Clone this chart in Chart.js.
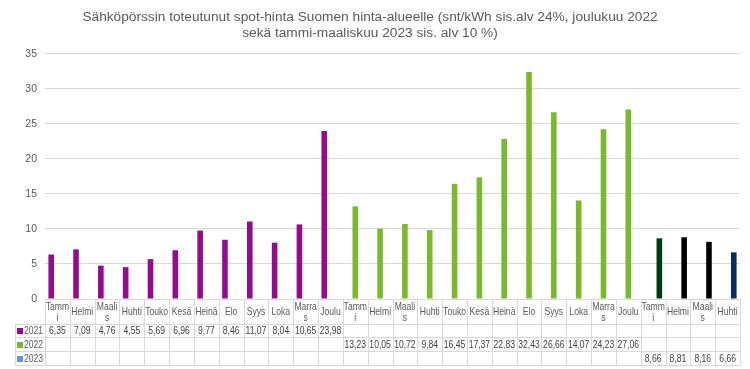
<!DOCTYPE html>
<html>
<head>
<meta charset="utf-8">
<script src="https://cdn.jsdelivr.net/npm/chart.js@4"></script>
<style>
html, body { margin: 0; padding: 0; background: #fff; }
#wrap { width: 750px; height: 369px; }
</style>
</head>
<body>
<div id="wrap"><canvas id="barChart"></canvas></div>
<script>
var months = [['Tamm', 'i'], 'Helmi', ['Maali', 's'], 'Huhti', 'Touko', 'Kesä', 'Heinä', 'Elo', 'Syys', 'Loka', ['Marra', 's'], 'Joulu'];
var categories = months.concat(months, months.slice(0, 4));
var seriesNames = ['2021', '2022', '2023'];
var values2021 = [6.35, 7.09, 4.76, 4.55, 5.69, 6.96, 9.77, 8.46, 11.07, 8.04, 10.65, 23.98];
var values2022 = [13.23, 10.05, 10.72, 9.84, 16.45, 17.37, 22.83, 32.43, 26.66, 14.07, 24.23, 27.06];
var values2023 = [8.66, 8.81, 8.16, 6.66];
var colors2023 = ['#003b10', '#000000', '#000000', '#0b2a6b'];
var legendColors = ['#950a95', '#7ab929', '#5b9bd5'];

function nulls(k) { return Array(k).fill(null); }
var data2021 = values2021.concat(nulls(16));
var data2022 = nulls(12).concat(values2022, nulls(4));
var data2023 = nulls(24).concat(values2023);
var rows = [data2021, data2022, data2023];

var fontFam = '"Liberation Sans", sans-serif';
Chart.defaults.font.family = fontFam;
Chart.defaults.color = '#595959';

// narrow text, a bit like Calibri
function narrowText(ctx, txt, x, y, align) {
    ctx.save();
    ctx.translate(x, y);
    ctx.scale(0.78, 1);
    ctx.textAlign = align;
    ctx.fillText(txt, 0, 0);
    ctx.restore();
}

// data table under the plot, drawn on the x scale's columns
var dataTable = {
    id: 'dataTable',
    afterDraw: function (chart) {
        var ctx = chart.ctx, area = chart.chartArea, x = chart.scales.x;
        var n = categories.length, w = (area.right - area.left) / n;
        var top = area.bottom, hdrBottom = top + 24.5, rowH = 13.8, bottom = hdrBottom + rowH * 3;
        var left = 15;
        ctx.save();
        ctx.strokeStyle = '#d9d9d9';
        ctx.lineWidth = 1;
        ctx.beginPath();
        ctx.moveTo(area.left, Math.round(top) + 0.5);
        ctx.lineTo(area.right, Math.round(top) + 0.5);
        for (var r = 0; r <= 3; r++) {
            var yy = Math.round(hdrBottom + r * rowH) + 0.5;
            ctx.moveTo(left, yy);
            ctx.lineTo(area.right, yy);
        }
        for (var i = 0; i <= n; i++) {
            var xx = Math.round(area.left + i * w) + 0.5;
            ctx.moveTo(xx, top);
            ctx.lineTo(xx, Math.round(bottom) + 0.5);
        }
        ctx.moveTo(left + 0.5, Math.round(hdrBottom) + 0.5);
        ctx.lineTo(left + 0.5, Math.round(bottom) + 0.5);
        ctx.stroke();

        ctx.font = '11px ' + fontFam;
        ctx.textBaseline = 'middle';
        ctx.fillStyle = '#595959';
        var hc = (top + hdrBottom) / 2 + 1;
        categories.forEach(function (lab, i) {
            var cx = x.getPixelForValue(i);
            if (Array.isArray(lab)) {
                narrowText(ctx, lab[0], cx, hc - 5.5, 'center');
                narrowText(ctx, lab[1], cx, hc + 6, 'center');
            } else {
                narrowText(ctx, lab, cx, hc, 'center');
            }
        });

        rows.forEach(function (vals, r) {
            var cy = hdrBottom + r * rowH + rowH / 2 + 1;
            ctx.fillStyle = legendColors[r];
            ctx.fillRect(17, Math.round(cy) - 3, 6, 6);
            ctx.fillStyle = '#595959';
            narrowText(ctx, seriesNames[r], 24, cy, 'left');
            ctx.fillStyle = '#404040';
            vals.forEach(function (v, i) {
                if (v === null) return;
                narrowText(ctx, v.toFixed(2).replace('.', ','), x.getPixelForValue(i), cy, 'center');
            });
        });
        ctx.restore();
    }
};

new Chart(document.getElementById('barChart'), {
    type: 'bar',
    data: {
        labels: categories,
        datasets: [
            { label: seriesNames[0], data: data2021, backgroundColor: legendColors[0] },
            { label: seriesNames[1], data: data2022, backgroundColor: legendColors[1] },
            { label: seriesNames[2], data: data2023, backgroundColor: nulls(24).map(function () { return legendColors[2]; }).concat(colors2023) }
        ]
    },
    options: {
        responsive: true,
        maintainAspectRatio: false,
        animation: false,
        categoryPercentage: 0.75,
        barPercentage: 0.9,
        layout: { padding: { left: 0, right: 10, top: 0, bottom: 70 } },
        plugins: {
            legend: { display: false },
            tooltip: { enabled: false },
            title: {
                display: true,
                text: ['Sähköpörssin toteutunut spot-hinta Suomen hinta-alueelle (snt/kWh sis.alv 24%, joulukuu 2022', 'sekä tammi-maaliskuu 2023 sis. alv 10 %)'],
                color: '#595959',
                font: { size: 13.7, weight: 'normal' },
                lineHeight: 1.38,
                padding: { top: 9, bottom: 12 }
            }
        },
        scales: {
            x: { display: false },
            y: {
                min: 0,
                max: 35,
                ticks: { stepSize: 5, color: '#595959', font: { size: 10.5 }, padding: 8 },
                grid: { color: '#d9d9d9', drawTicks: false },
                border: { display: false },
                afterFit: function (scale) { scale.width = 45; }
            }
        }
    },
    plugins: [dataTable]
});
</script>
</body>
</html>
